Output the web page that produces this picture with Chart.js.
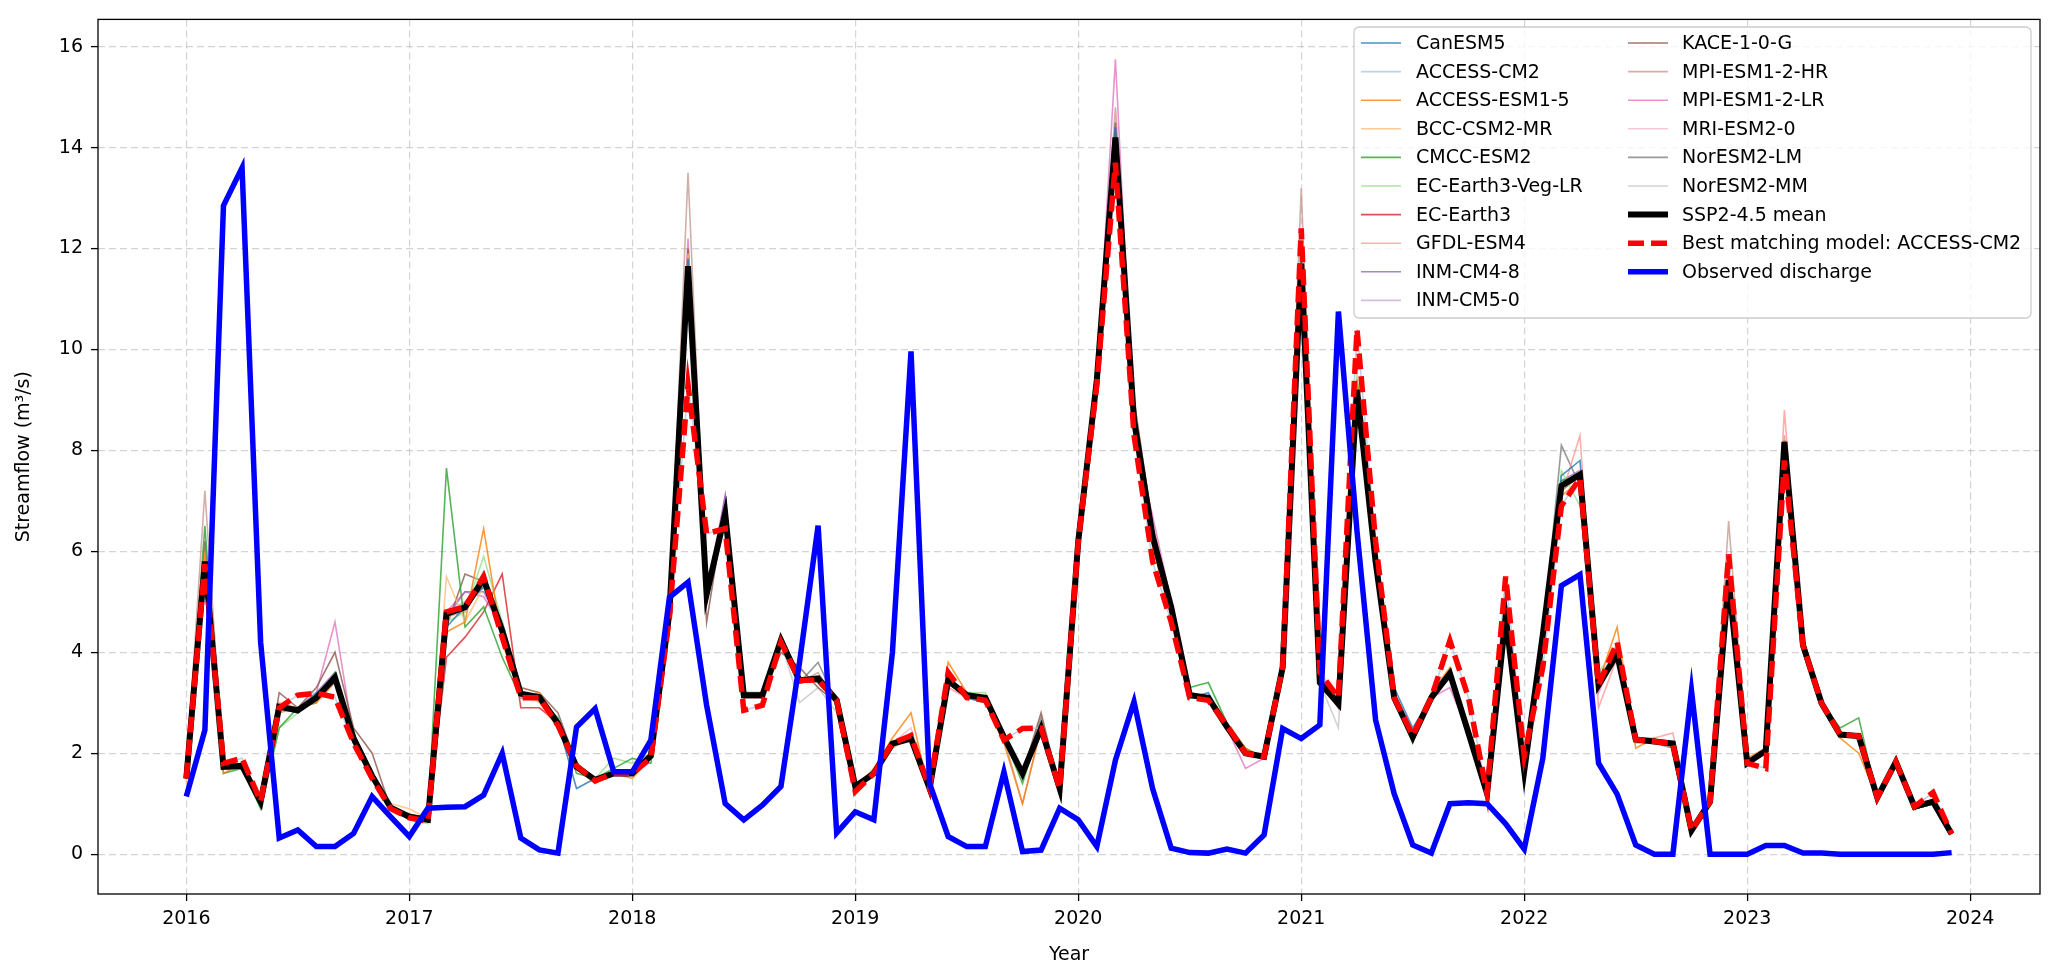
<!DOCTYPE html>
<html>
<head>
<meta charset="utf-8">
<title>Streamflow: SSP2-4.5 models vs observed</title>
<script src="https://cdn.jsdelivr.net/npm/chart.js@4.4.0/dist/chart.umd.min.js"></script>
<style>
  html, body { margin: 0; padding: 0; background: #fff; }
  #wrap { width: 2058px; height: 979px; }
</style>
</head>
<body>
<div id="wrap"><canvas id="chart" width="2058" height="979"></canvas></div>
<script>
// monthly series, Jan 2016 .. Dec 2023
const startYear = 2016;
const yearTicks = [2016, 2017, 2018, 2019, 2020, 2021, 2022, 2023, 2024];
const flowTicks = [0, 2, 4, 6, 8, 10, 12, 14, 16];

const modelNames = [
  'CanESM5', 'ACCESS-CM2', 'ACCESS-ESM1-5', 'BCC-CSM2-MR', 'CMCC-ESM2',
  'EC-Earth3-Veg-LR', 'EC-Earth3', 'GFDL-ESM4', 'INM-CM4-8', 'INM-CM5-0',
  'KACE-1-0-G', 'MPI-ESM1-2-HR', 'MPI-ESM1-2-LR', 'MRI-ESM2-0', 'NorESM2-LM', 'NorESM2-MM'
];
const modelColors = [
  '#1f77b4', '#aec7e8', '#ff7f0e', '#ffbb78', '#2ca02c',
  '#98df8a', '#d62728', '#ff9896', '#9467bd', '#c5b0d5',
  '#8c564b', '#c49c94', '#e377c2', '#f7b6d2', '#7f7f7f', '#c7c7c7'
];

const canesm5 = [
  1.5,5.6,1.7,1.7,1.0,2.9,2.8,3.2,3.4,2.2,1.5,0.9,
  0.7,0.7,4.5,4.9,5.3,4.3,3.2,3.1,2.6,1.3,1.5,1.6,
  1.6,2.0,4.6,11.8,5.3,6.7,3.2,3.1,4.2,3.5,3.4,3.0,
  1.3,1.6,2.2,2.3,1.2,3.4,3.1,3.0,2.4,1.5,2.5,1.3,
  6.1,9.5,14.4,8.6,6.4,5.0,3.1,3.2,2.5,2.0,1.9,3.7,
  11.8,3.3,3.0,9.0,5.9,3.3,2.5,3.1,3.5,2.3,1.2,4.8,
  1.7,4.3,7.5,7.8,3.3,3.9,2.3,2.2,2.2,0.5,1.0,5.5,
  1.8,2.0,8.0,4.1,3.0,2.4,2.3,1.1,1.8,0.9,1.0,0.4
];
const accessCm2 = [
  1.5,5.75,1.8,1.9,1.04,2.9,3.15,3.19,3.11,2.2,1.5,0.9,
  0.72,0.65,4.8,4.9,5.5,4.3,3.1,3.1,2.55,1.75,1.45,1.6,
  1.6,1.9,4.7,9.3,6.35,6.45,2.85,2.95,4.2,3.44,3.45,3.05,
  1.24,1.6,2.2,2.35,1.3,3.6,3.1,3.05,2.26,2.49,2.5,1.3,
  6.2,9.3,13.7,8.3,5.8,4.6,3.1,3.05,2.55,2.0,1.93,3.7,
  12.4,3.6,3.1,10.4,6.2,3.1,2.35,3.1,4.23,3.1,1.2,5.5,
  1.95,3.7,6.9,7.45,3.35,4.2,2.27,2.23,2.19,0.47,1.04,5.94,
  1.8,1.7,7.8,4.14,2.99,2.37,2.34,1.12,1.83,0.94,1.22,0.4
];
const accessEsm15 = [
  1.6,6.0,1.6,1.8,1.0,2.8,2.9,3.0,3.4,2.3,1.6,0.9,
  0.8,0.7,4.4,4.6,6.45,4.2,3.1,3.2,2.6,1.8,1.4,1.6,
  1.5,1.9,4.9,11.2,5.0,6.8,3.1,3.2,4.3,3.4,3.5,3.1,
  1.3,1.7,2.3,2.8,1.2,3.8,3.2,3.0,2.2,1.0,2.5,1.3,
  6.3,9.2,13.9,8.7,6.1,4.7,3.2,3.0,2.6,2.1,1.9,3.6,
  11.4,3.5,2.9,9.4,5.7,3.0,2.3,3.2,3.7,2.5,1.1,4.6,
  1.6,4.4,7.1,7.4,3.4,4.5,2.1,2.3,2.1,0.5,1.1,5.3,
  1.9,2.1,8.2,4.2,3.0,2.3,2.0,1.1,1.9,0.9,1.1,0.4
];
const bccCsm2Mr = [
  1.4,5.9,1.7,1.8,1.1,3.0,2.9,3.1,3.5,2.3,1.5,1.0,
  0.9,0.7,5.5,4.6,5.3,4.5,3.2,3.0,2.5,1.7,1.5,1.6,
  1.6,2.0,4.7,11.9,5.1,6.6,3.2,3.1,4.1,3.4,3.4,3.0,
  1.4,1.6,2.1,2.3,1.4,3.5,3.1,3.1,2.3,1.7,2.4,1.3,
  6.2,9.4,14.0,8.7,6.3,4.9,3.2,3.1,2.5,2.0,2.0,3.7,
  11.6,3.4,3.0,9.1,5.8,3.1,2.3,3.0,3.6,2.4,1.2,4.7,
  1.7,4.4,7.2,7.6,3.3,4.1,2.2,2.2,2.2,0.5,1.0,5.4,
  1.8,2.1,8.1,4.2,2.9,2.3,2.4,1.1,1.8,1.0,1.0,0.4
];
const cmccEsm2 = [
  1.5,6.5,1.6,1.7,0.9,2.5,2.9,3.0,3.6,2.2,1.5,0.9,
  0.7,0.7,7.65,4.5,4.9,3.9,3.1,3.1,2.7,1.6,1.5,1.7,
  1.9,1.8,4.8,11.6,5.2,6.7,3.2,3.2,4.2,3.5,3.4,3.0,
  1.3,1.6,2.1,2.4,1.3,3.4,3.2,3.1,2.3,1.4,2.6,1.3,
  6.2,9.5,14.3,8.8,6.4,5.0,3.3,3.4,2.6,2.1,1.9,3.7,
  11.8,3.4,3.1,9.4,5.9,3.1,2.2,3.2,3.5,2.5,1.2,4.7,
  1.6,4.6,7.4,7.5,3.5,4.0,2.3,2.2,2.2,0.5,1.1,5.5,
  1.8,2.0,8.1,4.3,3.0,2.5,2.7,1.1,1.9,0.9,1.0,0.4
];
const ecEarth3VegLr = [
  1.5,5.7,1.8,1.8,1.0,2.5,2.8,3.2,3.4,2.3,1.6,0.9,
  0.7,0.6,4.6,4.8,5.9,4.6,3.2,3.1,2.6,1.7,1.5,1.9,
  1.8,2.0,4.9,11.5,5.1,6.8,3.1,3.2,4.3,3.5,3.5,3.1,
  1.3,1.6,2.2,2.3,1.4,3.4,3.2,3.2,2.3,1.6,2.5,1.3,
  6.1,9.3,14.1,8.8,6.2,4.9,3.1,3.1,2.5,2.0,1.9,3.7,
  11.7,3.4,3.0,9.5,5.8,3.1,2.3,3.1,3.6,2.4,1.2,4.7,
  1.7,4.4,7.6,6.9,3.6,4.1,2.3,2.2,2.2,0.5,1.1,5.4,
  1.8,2.1,8.2,4.1,3.0,2.4,2.3,1.1,1.9,0.9,1.0,0.4
];
const ecEarth3 = [
  1.5,5.6,1.7,1.7,1.1,2.9,2.9,3.1,3.5,2.2,1.6,0.9,
  0.7,0.7,3.9,4.3,4.8,5.55,2.9,2.9,2.6,1.8,1.5,1.6,
  1.6,1.9,4.7,11.8,5.2,6.6,3.2,3.1,4.2,3.4,3.5,3.0,
  1.4,1.6,2.2,2.3,1.3,3.5,3.1,3.1,2.3,1.6,2.5,1.3,
  6.3,9.4,14.3,8.6,6.3,4.9,3.2,3.1,2.5,2.0,1.9,3.7,
  11.6,3.4,3.0,9.2,5.8,3.1,2.3,3.1,3.6,2.4,1.2,4.6,
  1.7,4.3,7.3,7.5,3.3,4.0,2.3,2.2,2.2,0.5,1.0,5.4,
  1.8,2.0,8.1,4.1,3.0,2.4,2.3,1.1,1.8,0.9,1.0,0.4
];
const gfdlEsm4 = [
  1.5,5.8,1.7,1.8,1.0,2.9,2.9,3.1,3.4,2.3,1.5,0.9,
  0.7,0.7,4.7,4.8,5.4,4.4,3.1,3.1,2.6,1.7,1.5,1.6,
  1.6,2.0,4.8,11.7,5.1,6.7,3.2,3.1,4.2,3.4,3.5,3.0,
  1.3,1.6,2.2,2.3,1.4,3.3,3.1,3.1,2.4,1.6,2.5,1.3,
  6.2,9.4,14.2,8.6,6.2,4.9,3.2,3.1,2.5,2.0,1.9,3.7,
  11.7,3.5,3.0,9.3,5.8,3.1,2.4,3.1,3.6,2.4,1.2,4.7,
  1.6,4.2,7.1,8.3,2.9,3.9,2.3,2.3,2.4,0.5,1.0,5.5,
  1.8,2.0,8.8,4.0,3.0,2.4,2.3,1.1,1.8,0.9,1.0,0.4
];
const inmCm48 = [
  1.5,5.9,1.7,1.7,1.0,2.9,2.9,3.2,3.6,2.3,1.5,0.9,
  0.7,0.7,4.7,5.2,5.2,4.5,3.2,3.1,2.6,1.7,1.5,1.6,
  1.6,1.9,4.8,11.8,5.0,7.1,3.1,3.2,4.2,3.5,3.4,3.0,
  1.3,1.6,2.2,2.3,1.3,3.4,3.1,3.1,2.3,1.6,2.5,1.3,
  6.2,9.3,14.4,8.5,6.4,4.9,3.1,3.1,2.5,2.0,1.9,3.7,
  11.8,3.4,2.9,9.2,5.8,3.1,2.3,3.1,3.5,2.4,1.2,4.7,
  1.7,4.4,7.4,7.6,3.4,4.0,2.3,2.2,2.2,0.5,1.0,5.4,
  1.8,2.0,8.2,4.1,3.0,2.4,2.3,1.1,1.8,0.9,1.0,0.4
];
const inmCm50 = [
  1.5,5.8,1.7,1.8,1.0,2.9,2.8,3.1,3.5,2.3,1.6,0.9,
  0.7,0.7,4.8,5.0,5.5,4.4,3.2,3.1,2.6,1.7,1.5,1.6,
  1.6,2.0,4.8,11.6,5.2,6.8,3.1,3.2,4.3,3.4,3.5,3.0,
  1.4,1.6,2.2,2.3,1.3,3.4,3.2,3.1,2.3,1.6,2.5,1.3,
  6.2,9.4,14.1,8.6,6.3,4.9,3.1,3.1,2.5,2.0,1.9,3.7,
  11.7,3.4,3.0,9.2,5.8,3.1,2.3,3.1,3.6,2.4,1.2,4.7,
  1.6,4.3,7.3,7.5,3.4,4.0,2.3,2.2,2.2,0.5,1.0,5.4,
  1.8,2.1,8.2,4.1,3.0,2.4,2.3,1.1,1.8,0.9,1.0,0.4
];
const kace10G = [
  1.5,6.2,1.7,1.8,1.0,3.2,2.9,3.3,4.0,2.5,2.0,0.9,
  0.7,0.7,4.5,5.55,5.4,4.6,3.3,3.2,2.8,1.8,1.5,1.6,
  1.6,2.0,4.8,12.0,4.6,6.9,3.2,3.1,4.0,3.7,3.3,3.0,
  1.3,1.6,2.2,2.3,1.3,3.4,3.1,3.1,2.3,1.6,2.8,1.3,
  6.2,9.4,14.5,9.0,6.5,5.0,3.2,3.1,2.5,2.0,1.9,3.7,
  11.9,3.4,3.0,9.0,5.8,3.1,2.3,3.1,3.5,2.4,1.2,4.7,
  1.7,4.3,7.2,7.5,3.3,4.0,2.3,2.2,2.2,0.5,1.0,5.4,
  1.8,2.0,8.1,4.1,3.0,2.4,2.3,1.1,1.8,0.9,1.0,0.4
];
const mpiEsm12Hr = [
  1.6,7.2,1.7,1.7,1.0,3.0,2.8,3.1,3.5,2.3,1.6,0.9,
  0.7,0.7,4.8,4.9,5.5,4.4,3.1,3.1,2.6,1.7,1.5,1.6,
  1.6,2.0,4.8,13.5,5.0,6.6,3.1,3.1,4.3,3.4,3.6,3.0,
  1.3,1.6,2.2,2.3,1.3,3.4,3.1,3.0,2.3,1.0,2.5,1.3,
  6.3,9.4,14.8,9.0,6.5,5.0,3.1,3.1,2.5,2.0,1.9,3.7,
  13.2,3.4,3.0,9.2,5.8,3.1,2.3,3.1,3.6,2.4,1.2,4.7,
  1.6,4.3,7.3,7.5,3.3,4.0,2.3,2.2,2.2,0.5,1.0,6.6,
  1.8,2.0,8.3,4.1,3.0,2.4,2.3,1.1,1.8,0.9,1.0,0.4
];
const mpiEsm12Lr = [
  1.5,5.8,1.7,1.8,1.0,2.9,2.8,3.2,4.6,2.3,1.5,0.9,
  0.7,0.7,4.8,5.2,5.1,4.5,3.1,3.1,2.6,1.7,1.5,1.6,
  1.6,2.0,4.8,12.2,5.2,7.1,3.2,3.1,4.2,3.4,3.5,3.0,
  1.3,1.6,2.2,2.3,1.3,3.4,3.1,3.1,2.3,1.6,2.5,1.3,
  6.2,9.4,15.75,8.3,6.7,5.0,3.2,3.1,2.5,1.7,1.9,3.7,
  11.9,3.4,2.9,9.3,5.8,3.1,2.3,3.1,3.3,2.4,1.2,4.7,
  1.6,4.4,7.2,7.6,3.2,4.0,2.3,2.2,2.2,0.5,1.0,5.5,
  1.8,2.0,8.2,4.1,3.0,2.4,2.3,1.1,1.8,0.9,1.0,0.4
];
const mriEsm20 = [
  1.5,5.7,1.7,1.8,1.0,2.9,2.9,3.1,3.5,2.3,1.5,0.9,
  0.7,0.7,4.7,4.9,5.4,4.4,3.1,3.1,2.6,1.7,1.5,1.6,
  1.6,2.0,4.8,11.6,5.1,6.7,3.1,3.1,4.3,3.4,3.5,3.0,
  1.3,1.6,2.2,2.5,1.3,3.5,3.1,3.1,2.3,1.6,2.5,1.3,
  6.2,9.4,14.2,8.6,6.3,4.9,3.1,3.1,2.5,2.0,1.9,3.7,
  11.7,3.4,3.0,9.2,5.8,3.1,2.3,3.1,3.6,2.4,1.2,4.7,
  1.6,4.3,7.3,7.5,3.3,4.0,2.3,2.2,2.2,0.5,1.0,5.4,
  1.8,2.0,8.2,4.1,3.0,2.4,2.3,1.1,1.8,0.9,1.0,0.4
];
const norEsm2Lm = [
  1.5,5.8,1.7,1.7,1.0,2.9,2.9,3.1,3.5,2.3,1.5,0.9,
  0.7,0.7,4.7,4.9,5.6,4.4,3.1,3.1,2.6,1.7,1.5,1.6,
  1.6,2.0,4.8,11.7,5.1,6.7,3.1,3.1,4.2,3.4,3.8,3.0,
  1.3,1.6,2.2,2.3,1.3,3.4,3.1,3.1,2.3,1.6,2.7,1.3,
  6.2,9.4,14.2,8.7,6.3,4.9,3.1,3.1,2.5,2.0,1.9,3.7,
  11.7,3.4,3.0,9.2,5.8,3.1,2.3,3.1,3.6,2.4,1.2,4.7,
  1.7,4.3,8.1,7.3,3.3,4.0,2.3,2.2,2.1,0.5,1.0,5.4,
  1.8,2.0,8.2,4.1,3.0,2.4,2.3,1.1,1.8,0.9,1.0,0.4
];
const norEsm2Mm = [
  1.5,5.8,1.7,1.8,1.0,2.9,2.8,3.1,3.5,2.3,1.5,0.9,
  0.7,0.7,4.7,5.0,5.4,4.5,3.1,3.1,2.6,1.7,1.5,1.6,
  1.6,2.0,4.8,11.7,5.1,6.7,3.1,3.1,4.2,3.0,3.3,2.8,
  1.3,1.6,2.2,2.3,1.3,3.4,3.1,3.1,2.3,1.6,2.5,1.3,
  6.2,9.4,14.2,8.6,6.3,4.9,3.1,3.1,2.5,2.0,1.9,3.7,
  11.7,3.4,2.5,9.2,5.8,3.1,2.3,3.1,3.6,2.4,1.2,4.7,
  1.6,4.3,7.3,7.5,3.3,4.0,2.3,2.2,2.2,0.5,1.0,5.4,
  1.8,2.0,8.2,4.1,3.0,2.4,2.3,1.1,1.8,0.9,1.0,0.4
];

const ssp245Mean = [
  1.5,5.8,1.73,1.75,1.04,2.92,2.85,3.1,3.5,2.3,1.55,0.92,
  0.74,0.68,4.76,4.89,5.45,4.43,3.18,3.11,2.59,1.73,1.47,1.6,
  1.6,1.95,4.8,11.65,5.15,6.75,3.15,3.15,4.24,3.44,3.48,3.05,
  1.34,1.6,2.19,2.29,1.3,3.44,3.15,3.1,2.32,1.6,2.49,1.3,
  6.2,9.4,14.2,8.6,6.3,4.9,3.15,3.1,2.52,2.0,1.93,3.7,
  11.7,3.4,2.98,9.2,5.8,3.1,2.32,3.1,3.58,2.4,1.2,4.7,
  1.65,4.35,7.3,7.52,3.35,3.96,2.27,2.23,2.19,0.47,1.04,5.43,
  1.8,2.05,8.17,4.14,2.99,2.37,2.34,1.12,1.83,0.94,1.04,0.4
];
const observed = [
  1.14,2.46,12.85,13.6,4.2,0.32,0.48,0.15,0.15,0.41,1.14,0.74,
  0.35,0.91,0.93,0.94,1.17,2.0,0.32,0.085,0.02,2.52,2.88,1.63,
  1.63,2.26,5.09,5.39,2.95,1.0,0.68,0.97,1.34,3.8,6.51,0.42,
  0.84,0.68,4.0,9.96,1.4,0.35,0.15,0.15,1.63,0.05,0.08,0.91,
  0.68,0.15,1.86,3.02,1.3,0.12,0.03,0.02,0.1,0.02,0.38,2.49,
  2.29,2.56,10.75,6.4,2.66,1.2,0.18,0.02,1.0,1.02,1.0,0.6,
  0.1,1.9,5.32,5.54,1.8,1.19,0.18,0.0,0.0,3.24,0.0,0.0,
  0.0,0.17,0.17,0.02,0.02,0.0,0.0,0.0,0.0,0.0,0.0,0.03
];

const modelSeries = [
  canesm5, accessCm2, accessEsm15, bccCsm2Mr, cmccEsm2, ecEarth3VegLr, ecEarth3, gfdlEsm4,
  inmCm48, inmCm50, kace10G, mpiEsm12Hr, mpiEsm12Lr, mriEsm20, norEsm2Lm, norEsm2Mm
];

const FONT = 'DejaVu Sans';
const toPoints = vals => vals.map((v, i) => ({ x: startYear + i / 12, y: v }));

function hexA(hex, a) {
  const n = parseInt(hex.slice(1), 16);
  return `rgba(${(n >> 16) & 255},${(n >> 8) & 255},${n & 255},${a})`;
}

const datasets = modelSeries.map((vals, k) => ({
  label: modelNames[k],
  data: toPoints(vals),
  borderColor: hexA(modelColors[k], 0.8),
  borderWidth: 1.6,
  order: 3
}));
datasets.push({
  label: 'SSP2-4.5 mean', data: toPoints(ssp245Mean),
  borderColor: '#000000', borderWidth: 6, order: 2
});
datasets.push({
  label: 'Best matching model: ACCESS-CM2', data: toPoints(accessCm2),
  borderColor: '#ff0000', borderWidth: 5.5, borderDash: [16, 7], order: 1
});
datasets.push({
  label: 'Observed discharge', data: toPoints(observed),
  borderColor: '#0000ff', borderWidth: 5.5, order: 0
});

// axes frame, axis titles and the two-column legend
const decorPlugin = {
  id: 'decor',
  afterDraw(chart) {
    const { ctx, chartArea: a } = chart;
    ctx.save();
    ctx.strokeStyle = '#000';
    ctx.lineWidth = 1.3;
    ctx.setLineDash([]);
    ctx.strokeRect(a.left, a.top, a.right - a.left, a.bottom - a.top);

    ctx.fillStyle = '#000';
    ctx.font = `19px "${FONT}"`;
    ctx.textAlign = 'center';
    ctx.textBaseline = 'middle';
    ctx.fillText('Year', (a.left + a.right) / 2, 955);
    ctx.translate(24, (a.top + a.bottom) / 2);
    ctx.rotate(-Math.PI / 2);
    ctx.fillText('Streamflow (m³/s)', 0, 0);
    ctx.restore();

    // legend
    ctx.save();
    const bx = 1354, by = 27, bw = 677, bh = 291, r = 5;
    ctx.beginPath();
    ctx.moveTo(bx + r, by);
    ctx.arcTo(bx + bw, by, bx + bw, by + bh, r);
    ctx.arcTo(bx + bw, by + bh, bx, by + bh, r);
    ctx.arcTo(bx, by + bh, bx, by, r);
    ctx.arcTo(bx, by, bx + bw, by, r);
    ctx.closePath();
    ctx.fillStyle = 'rgba(255,255,255,0.8)';
    ctx.fill();
    ctx.strokeStyle = '#cccccc';
    ctx.lineWidth = 1.3;
    ctx.stroke();

    ctx.font = `19px "${FONT}"`;
    ctx.textAlign = 'left';
    ctx.textBaseline = 'middle';
    const cols = [{ lx: 1361, tx: 1416 }, { lx: 1628, tx: 1682 }];
    chart.data.datasets.forEach((ds, k) => {
      const col = k < 10 ? cols[0] : cols[1];
      const row = k < 10 ? k : k - 10;
      const y = 43 + row * 28.6;
      ctx.beginPath();
      ctx.setLineDash(ds.borderDash || []);
      ctx.strokeStyle = ds.borderColor;
      ctx.lineWidth = ds.borderWidth;
      ctx.moveTo(col.lx, y);
      ctx.lineTo(col.lx + 40, y);
      ctx.stroke();
      ctx.setLineDash([]);
      ctx.fillStyle = '#000';
      ctx.fillText(ds.label, col.tx, y + 1);
    });
    ctx.restore();
  }
};

const gridOpts = {
  color: 'rgba(176,176,176,0.55)',
  lineWidth: 1.2,
  tickColor: '#000',
  tickLength: 7,
  tickWidth: 1.3,
  tickBorderDash: []
};

new Chart(document.getElementById('chart'), {
  type: 'line',
  data: { datasets },
  options: {
    responsive: false,
    devicePixelRatio: 1,
    animation: false,
    events: [],
    layout: { padding: { top: 17, right: 18, left: 0, bottom: 0 } },
    elements: { point: { radius: 0 }, line: { tension: 0, fill: false } },
    plugins: { legend: { display: false }, tooltip: { enabled: false } },
    scales: {
      x: {
        type: 'linear',
        min: 2015.604,
        max: 2024.313,
        afterBuildTicks: s => { s.ticks = yearTicks.map(v => ({ value: v })); },
        afterFit: s => { s.height = 85; },
        ticks: {
          color: '#000', padding: 7, font: { family: FONT, size: 19 },
          callback: v => String(v), maxRotation: 0, autoSkip: false
        },
        grid: gridOpts,
        border: { display: false, dash: [7, 4] }
      },
      y: {
        type: 'linear',
        min: -0.79,
        max: 16.54,
        afterBuildTicks: s => { s.ticks = flowTicks.map(v => ({ value: v })); },
        afterFit: s => { s.width = 98; },
        ticks: {
          color: '#000', padding: 8, font: { family: FONT, size: 19 },
          callback: v => String(v), autoSkip: false
        },
        grid: gridOpts,
        border: { display: false, dash: [7, 4] }
      }
    }
  },
  plugins: [decorPlugin]
});
</script>
</body>
</html>
